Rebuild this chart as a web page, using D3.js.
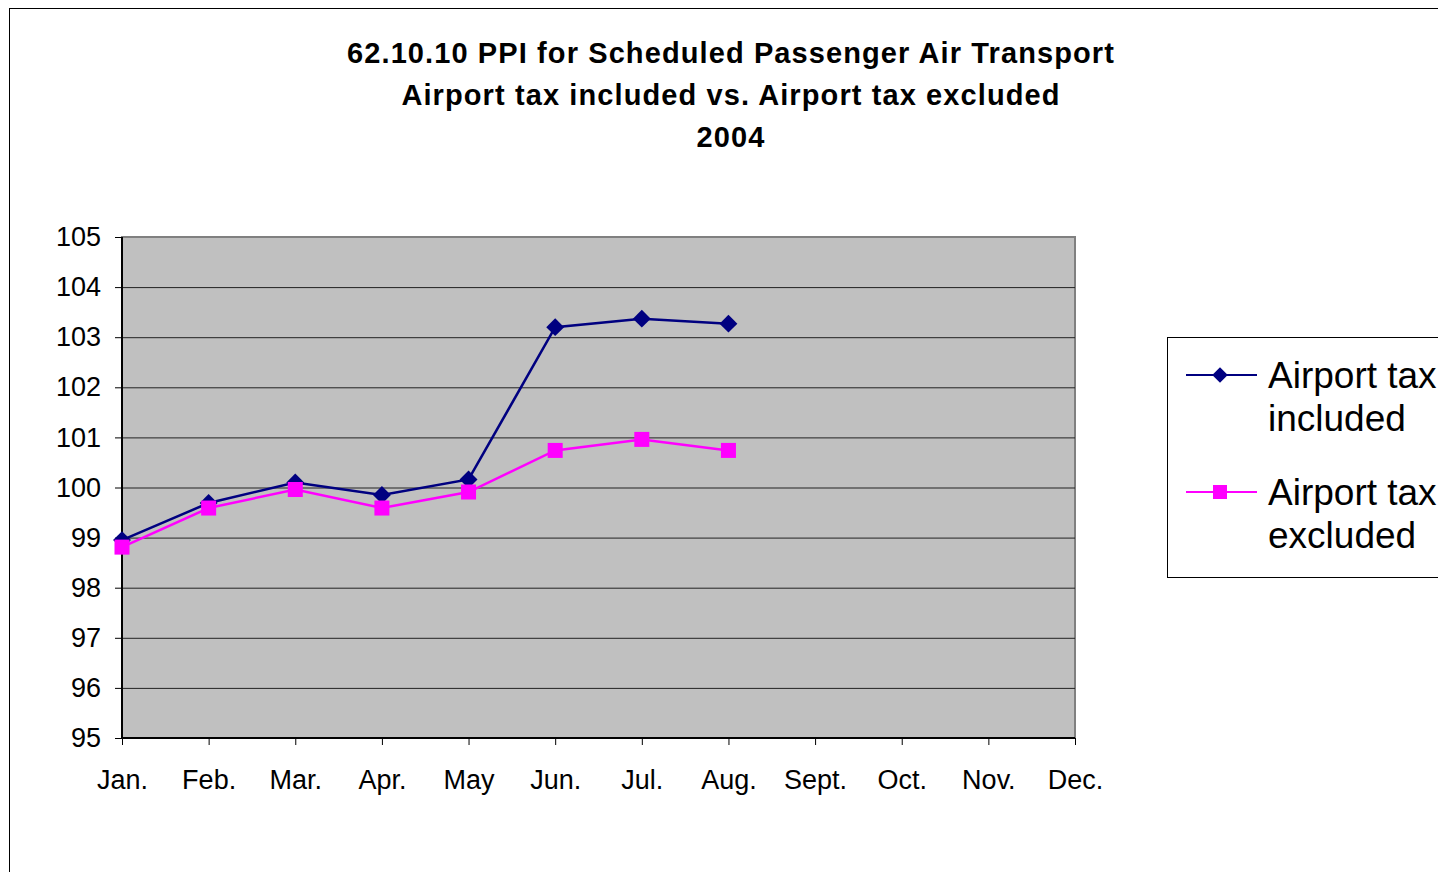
<!DOCTYPE html>
<html>
<head>
<meta charset="utf-8">
<script src="https://cdn.jsdelivr.net/npm/d3@7"></script>
<style>
  body { margin: 0; background: #fff; }
  svg { display: block; font-family: "Liberation Sans", Arial, sans-serif; }
</style>
</head>
<body>
<script>
// DATA
const MONTHS = ['Jan.', 'Feb.', 'Mar.', 'Apr.', 'May', 'Jun.', 'Jul.', 'Aug.', 'Sept.', 'Oct.', 'Nov.', 'Dec.'];
const INCLUDED = [98.95, 99.69, 100.1, 99.85, 100.16, 103.2, 103.37, 103.27];
const EXCLUDED = [98.81, 99.59, 99.96, 99.59, 99.91, 100.74, 100.96, 100.74];
const Y_TICKS = [95, 96, 97, 98, 99, 100, 101, 102, 103, 104, 105];
const TITLE = ['62.10.10 PPI for Scheduled Passenger Air Transport', 'Airport tax included vs. Airport tax excluded', '2004'];
const SERIES_NAMES = [['Airport tax', 'included'], ['Airport tax', 'excluded']];

// CONSTANTS
const WIDTH = 1438;
const HEIGHT = 872;
const LEFT = 122, RIGHT = 1075, TOP = 237, BOTTOM = 738;

const X_SCALE = d3.scalePoint().domain(MONTHS).range([LEFT, RIGHT]);
const Y_SCALE = d3.scaleLinear().domain([95, 105]).range([BOTTOM, TOP]);

const svg = d3.select('body').append('svg')
  .attr('width', WIDTH)
  .attr('height', HEIGHT);

// outer frame
svg.append('rect')
  .attr('x', 9.5).attr('y', 8.5)
  .attr('width', WIDTH + 20).attr('height', HEIGHT + 20)
  .attr('fill', 'none').attr('stroke', '#000').attr('stroke-width', 1);

// TITLE
svg.append('g').selectAll('text')
  .data(TITLE)
  .enter().append('text')
  .attr('x', 731)
  .attr('y', (d, i) => 63 + i * 42)
  .attr('text-anchor', 'middle')
  .style('font-weight', 'bold')
  .style('font-size', '29px')
  .style('letter-spacing', '1.1px')
  .text(d => d);

// PLOT AREA
svg.append('rect')
  .attr('x', LEFT).attr('y', TOP)
  .attr('width', RIGHT - LEFT).attr('height', BOTTOM - TOP)
  .attr('fill', '#c0c0c0')
  .attr('stroke', '#808080').attr('stroke-width', 2);

// GRIDLINES
svg.append('g')
  .selectAll('line')
  .data(Y_TICKS.filter(d => d > 95 && d < 105))
  .enter().append('line')
  .attr('x1', LEFT).attr('x2', RIGHT)
  .attr('y1', d => Y_SCALE(d) + 0.5).attr('y2', d => Y_SCALE(d) + 0.5)
  .attr('stroke', '#222').attr('stroke-width', 1);

// Y-AXIS
const Y_AXIS = d3.axisLeft(Y_SCALE).tickValues(Y_TICKS).tickSize(7).tickPadding(14).tickFormat(d3.format('d'));
svg.append('g')
  .attr('id', 'y-axis')
  .attr('transform', 'translate(' + LEFT + ',0)')
  .call(Y_AXIS)
  .call(g => g.select('.domain').attr('stroke-width', 2).attr('d', 'M0,' + TOP + 'V' + BOTTOM))
  .call(g => g.selectAll('text').style('font-size', '27px').attr('fill', '#000').attr('font-family', null));

// X-AXIS
const X_AXIS = d3.axisBottom(X_SCALE).tickSize(7).tickPadding(25);
svg.append('g')
  .attr('id', 'x-axis')
  .attr('transform', 'translate(0,' + BOTTOM + ')')
  .call(X_AXIS)
  .call(g => g.select('.domain').attr('stroke-width', 2).attr('d', 'M' + LEFT + ',0H' + RIGHT))
  .call(g => g.selectAll('text').style('font-size', '27px').attr('fill', '#000').attr('font-family', null));

// LINES
const line = d3.line()
  .x((d, i) => X_SCALE(MONTHS[i]))
  .y(d => Y_SCALE(d));

svg.append('path')
  .datum(INCLUDED)
  .attr('d', line)
  .attr('fill', 'none').attr('stroke', '#000080').attr('stroke-width', 2.5);

svg.append('path')
  .datum(EXCLUDED)
  .attr('d', line)
  .attr('fill', 'none').attr('stroke', '#ff00ff').attr('stroke-width', 2.5);

const diamond = d3.symbol().type(d3.symbolSquare).size(160);

svg.append('g').selectAll('path')
  .data(INCLUDED)
  .enter().append('path')
  .attr('d', diamond)
  .attr('transform', (d, i) => 'translate(' + X_SCALE(MONTHS[i]) + ',' + Y_SCALE(d) + ') rotate(45)')
  .attr('fill', '#000080');

svg.append('g').selectAll('rect')
  .data(EXCLUDED)
  .enter().append('rect')
  .attr('x', (d, i) => X_SCALE(MONTHS[i]) - 7.5)
  .attr('y', d => Y_SCALE(d) - 7.5)
  .attr('width', 15).attr('height', 15)
  .attr('fill', '#ff00ff');

// LEGEND
svg.append('rect')
  .attr('x', 1167.5).attr('y', 337.5)
  .attr('width', 300).attr('height', 240)
  .attr('fill', '#fff').attr('stroke', '#000').attr('stroke-width', 1);

const LEGEND_COLORS = ['#000080', '#ff00ff'];
const legend = svg.append('g').selectAll('g')
  .data(SERIES_NAMES)
  .enter().append('g')
  .attr('transform', (d, i) => 'translate(0,' + (375 + i * 117) + ')');

legend.append('line')
  .attr('x1', 1186).attr('x2', 1257)
  .attr('stroke', (d, i) => LEGEND_COLORS[i]).attr('stroke-width', 2);

legend.filter((d, i) => i === 0).append('path')
  .attr('d', d3.symbol().type(d3.symbolSquare).size(120))
  .attr('transform', 'translate(1220,0) rotate(45)')
  .attr('fill', '#000080');

legend.filter((d, i) => i === 1).append('rect')
  .attr('x', 1213).attr('y', -7).attr('width', 14).attr('height', 14)
  .attr('fill', '#ff00ff');

legend.append('text')
  .attr('x', 1268)
  .attr('y', 13)
  .style('font-size', '37px')
  .selectAll('tspan')
  .data(d => d)
  .enter().append('tspan')
  .attr('x', 1268)
  .attr('dy', (d, i) => i === 0 ? 0 : 43)
  .text(d => d);
</script>
</body>
</html>
